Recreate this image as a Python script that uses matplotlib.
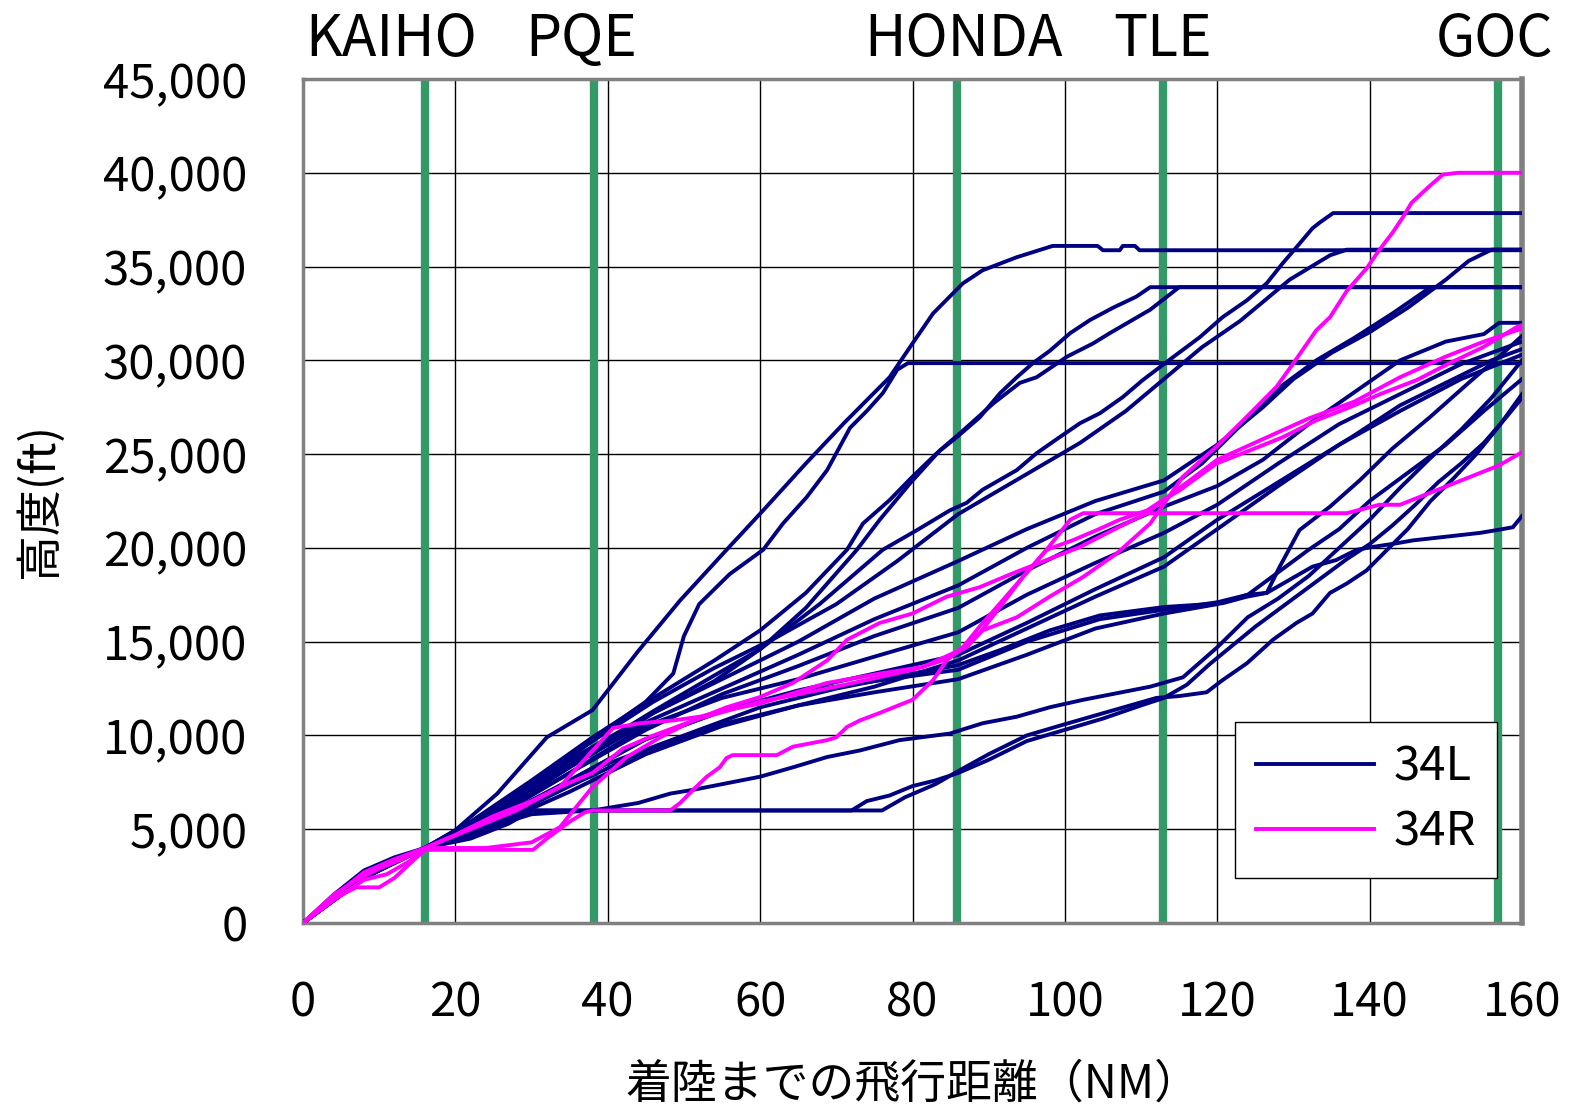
import matplotlib
matplotlib.use("Agg")
import matplotlib.pyplot as plt
from matplotlib.ticker import FuncFormatter
from matplotlib.transforms import blended_transform_factory

plt.rcParams['font.family'] = ['Noto Sans CJK JP', 'DejaVu Sans']

# 34L tracks (distance to landing NM, altitude ft)
l01_x = [0, 4, 8, 12, 16, 20, 25.5, 32, 38, 44, 49.5, 55.6, 60.4, 66, 71, 77, 80, 82.7, 86.6, 89.2, 93.7, 98.4, 104.3, 105, 107.2, 107.6, 109.2, 109.8, 160]
l01_y = [0, 1500, 2800, 3500, 4000, 4950, 6900, 9900, 11350, 14500, 17200, 19900, 22000, 24500, 26650, 29100, 30900, 32500, 34100, 34800, 35500, 36100, 36100, 35870, 35870, 36100, 36100, 35870, 35870]

l02_x = [0, 4, 8, 12, 16, 22, 30, 38, 45, 48.6, 50, 52, 56, 60.4, 63, 66.1, 68.8, 71.8, 74, 76.1, 78, 79.4, 160]
l02_y = [0, 1400, 2600, 3300, 4000, 5200, 7400, 9800, 11800, 13300, 15300, 17000, 18600, 19900, 21300, 22700, 24150, 26400, 27300, 28250, 29500, 29850, 29850]

l03_x = [0, 4, 8, 12, 16, 22, 30, 38, 46, 54, 60, 66, 71.4, 73.5, 77, 80, 83.2, 85.8, 88.8, 91.5, 93.7, 95.8, 98, 100.7, 103.3, 106.3, 109.4, 111.2, 160]
l03_y = [0, 1300, 2500, 3300, 4000, 5400, 7600, 9900, 12000, 14000, 15600, 17600, 19900, 21300, 22550, 23800, 25050, 25900, 26950, 28250, 29100, 29850, 30500, 31450, 32150, 32800, 33400, 33900, 33900]

l04_x = [0, 4, 8, 12, 16, 22, 30, 38, 46, 54, 60, 66, 72.7, 75.7, 79.7, 83.6, 86.2, 90.6, 94.1, 96.3, 100.3, 103.7, 105.9, 111.2, 115, 160]
l04_y = [0, 1200, 2400, 3200, 4000, 5200, 7200, 9300, 11300, 13200, 14600, 16800, 19900, 21500, 23450, 25200, 26100, 27700, 28800, 29100, 30200, 30900, 31450, 32700, 33900, 33900]

l05_x = [0, 4, 8, 12, 16, 22, 30, 38, 46, 54, 60, 67.8, 76.1, 80.6, 84.9, 87.1, 89.2, 93.7, 96.3, 99.3, 102, 104.6, 107.6, 110.2, 114.2, 117.7, 120.7, 123.9, 126.5, 128.6, 130.4, 132.5, 133.5, 135.2, 160]
l05_y = [0, 1300, 2600, 3400, 4000, 5100, 7000, 9100, 11200, 12900, 14600, 17000, 19900, 20950, 22000, 22400, 23100, 24150, 25050, 25900, 26650, 27180, 28040, 28940, 30170, 31230, 32300, 33200, 34110, 35180, 36030, 37040, 37360, 37850, 37850]

l06_x = [0, 4, 8, 12, 16, 22, 30, 38, 46, 54, 62, 70, 78, 86, 94, 102, 108, 113, 118, 123, 129.5, 134.8, 137, 160]
l06_y = [0, 1300, 2500, 3300, 4000, 5300, 7400, 9700, 11800, 13600, 15200, 17000, 19300, 21800, 23700, 25600, 27300, 29000, 30700, 32100, 34300, 35600, 35900, 35900]

l07_x = [0, 4, 8, 12, 16, 25, 35, 45, 55, 65, 75, 86, 95, 104, 113, 120, 126, 130, 135, 140, 145, 150, 153, 156, 160]
l07_y = [0, 1300, 2500, 3300, 4000, 6000, 8700, 11000, 13000, 15000, 17300, 19300, 21000, 22500, 23600, 25500, 27500, 29000, 30400, 31500, 32800, 34300, 35300, 35900, 35900]

l08_x = [0, 4, 8, 12, 16, 25, 35, 45, 55, 65, 75, 86, 95, 104, 113, 118, 123, 128, 133, 138, 143, 148, 160]
l08_y = [0, 1200, 2400, 3200, 4000, 5800, 8300, 10700, 12500, 14300, 16200, 18000, 20000, 21800, 23000, 24500, 26500, 28500, 30000, 31200, 32500, 33900, 33900]

l09_x = [0, 4, 8, 12, 16, 25, 35, 45, 55, 65, 75, 86, 95, 104, 113, 120, 126, 132, 138, 144, 150, 155, 157, 160]
l09_y = [0, 1300, 2600, 3300, 4000, 5600, 8000, 10300, 12200, 13700, 15300, 16800, 18800, 20600, 22200, 23300, 24700, 26600, 28300, 30000, 31000, 31400, 32000, 32000]

l10_x = [0, 4, 8, 12, 16, 25, 35, 45, 55, 65, 75, 86, 95, 104.6, 113, 120, 124, 126.5, 128.2, 130.8, 134.8, 138.7, 143, 148, 153, 157, 160]
l10_y = [0, 1200, 2500, 3300, 4000, 5500, 7600, 9800, 11300, 12300, 12900, 13500, 15000, 16200, 16700, 17100, 17500, 17600, 19000, 20950, 22200, 23600, 25300, 27000, 28800, 30200, 31300]

l11_x = [0, 4, 8, 12, 16, 20, 30, 40, 50, 60, 70, 80, 86, 91.5, 98, 104.6, 113.1, 120.7, 123.9, 126.5, 129.5, 132.5, 135.6, 138.3, 140.4, 143.6, 145.7, 150.1, 154.5, 156.7, 158.8, 160]
l11_y = [0, 1300, 2600, 3300, 4000, 4900, 6500, 8500, 10000, 11500, 12500, 13300, 13750, 14550, 15600, 16400, 16850, 17050, 17400, 17600, 18300, 19000, 19350, 19900, 20050, 20250, 20400, 20600, 20800, 20950, 21100, 21700]

l12_x = [0, 4, 8, 12, 16, 25, 35, 45, 55, 65, 75, 86, 95, 104, 113, 120, 124, 128, 132, 136, 140, 145, 150, 155, 160]
l12_y = [0, 1300, 2500, 3300, 4000, 5300, 7300, 9200, 10600, 11600, 12300, 13000, 14300, 15700, 16500, 17000, 17500, 18700, 19900, 21000, 22500, 24000, 25500, 27300, 29000]

l13_x = [0, 4, 8, 12, 16, 25, 35, 45, 55, 65, 75, 86, 95, 104, 113, 120, 128, 136, 144, 152, 160]
l13_y = [0, 1300, 2600, 3300, 4000, 5700, 8000, 10500, 12000, 13000, 14200, 15500, 17500, 19200, 20800, 22300, 24500, 26600, 28200, 29800, 31000]

l14_x = [0, 4, 8, 12, 16, 25, 35, 45, 55, 65, 75, 86, 95, 104, 113, 120, 126, 132, 138, 144, 150, 156, 160]
l14_y = [0, 1200, 2400, 3200, 4000, 5400, 7600, 9800, 11300, 12400, 13300, 14300, 16000, 17800, 19500, 21500, 23000, 24500, 26000, 27600, 28800, 30000, 30600]

l15_x = [0, 4, 8, 12, 16, 22, 27, 30, 76, 79, 83, 86, 90, 95, 100, 106, 112, 115, 118.6, 120.7, 123.9, 127.3, 130.4, 132.5, 134.8, 137, 139.6, 142.3, 145, 148, 151, 154, 157, 160]
l15_y = [0, 1300, 2500, 3200, 4000, 4600, 5400, 6000, 6000, 6700, 7400, 8100, 9000, 10000, 10600, 11300, 12000, 12100, 12300, 12950, 13850, 15100, 16000, 16500, 17600, 18100, 18800, 19900, 21000, 22500, 23700, 25000, 26500, 28200]

l16_x = [0, 4, 8, 12, 16, 22, 27, 30, 72, 74, 77, 80, 83, 86, 90, 95, 100, 105, 110, 113, 116, 119, 122, 125, 128, 131, 134, 137, 140, 143, 146, 149, 152, 155, 158, 160]
l16_y = [0, 1200, 2400, 3300, 4000, 4500, 5300, 6000, 6000, 6500, 6800, 7300, 7600, 8000, 8700, 9700, 10300, 10900, 11600, 12000, 12700, 13800, 14800, 15800, 16700, 17600, 18500, 19400, 20200, 21200, 22300, 23500, 24500, 25600, 27000, 28000]

l17_x = [0, 4, 8, 12, 16, 22, 30, 38, 44, 48.2, 51.2, 55.6, 60, 64.3, 68.8, 73.1, 78.3, 84.9, 89.2, 93.7, 98, 102.4, 106.8, 111.2, 115.5, 120, 124, 128, 132, 136, 140, 144, 148, 152, 156, 160]
l17_y = [0, 1300, 2600, 3300, 4000, 4800, 5800, 6000, 6400, 6900, 7100, 7450, 7800, 8300, 8850, 9200, 9750, 10100, 10650, 11000, 11500, 11900, 12250, 12600, 13100, 14700, 16300, 17300, 18500, 20000, 21500, 23200, 24800, 26300, 28000, 30000]

l18_x = [0, 4, 8, 12, 16, 25, 35, 45, 55, 65, 75, 86, 95, 104, 113, 120, 128, 136, 144, 152, 160]
l18_y = [0, 1300, 2500, 3300, 4000, 5200, 7000, 9000, 10500, 11600, 12600, 14000, 15700, 17400, 19000, 21000, 23300, 25500, 27300, 29000, 30300]

# 34R tracks
r01_x = [0, 4, 7, 10, 13, 16, 20, 25, 30, 34, 38, 42, 46, 52, 60, 70, 80, 84, 87.1, 89.2, 93.7, 98, 102.4, 106.8, 111.2, 115.5, 119.9, 123.9, 127.8, 130, 133, 134.8, 137, 139.6, 141.3, 143, 144.4, 145.5, 147.9, 149.6, 151.6, 160]
r01_y = [0, 1500, 2300, 2900, 3400, 4000, 4700, 5700, 6500, 7300, 8000, 9300, 10000, 10900, 11800, 12600, 13500, 14000, 14700, 15600, 16300, 17400, 18450, 19700, 21300, 23800, 25400, 27000, 28600, 29850, 31600, 32300, 33700, 34900, 35900, 36800, 37650, 38400, 39300, 39900, 40000, 40000]

r02_x = [0, 4, 8, 12, 16, 24, 30, 33.7, 38, 42.5, 46.9, 51.2, 55.6, 60, 64.3, 68.8, 71.4, 75.7, 80, 84.5, 88.8, 93.2, 97.6, 102, 106.3, 110.8, 112.9, 115.1, 119.9, 124.3, 128.6, 133, 137.4, 141.7, 146.2, 150.5, 154.9, 159.3, 160]
r02_y = [0, 1400, 2700, 3400, 4000, 4000, 4300, 5100, 7250, 8850, 9900, 10800, 11500, 12050, 12800, 14000, 15100, 16000, 16500, 17400, 17900, 18650, 19350, 20050, 20950, 21850, 22550, 23080, 24500, 25200, 25900, 26800, 27500, 28250, 28950, 29850, 30700, 31770, 31870]

r03_x = [0, 4, 7, 10, 12, 16, 20, 30.2, 32, 35, 37, 38, 48.2, 49.5, 51.2, 53, 54.7, 55.6, 56.4, 62.2, 64.3, 68.8, 70, 71.4, 73.1, 75.7, 80, 82.7, 84.5, 86.6, 88.8, 91.5, 94.5, 97.6, 100.7, 102.4, 137, 141.3, 144, 150.5, 157, 160]
r03_y = [0, 1300, 1900, 1900, 2400, 3900, 3900, 3900, 4500, 5400, 5900, 6000, 6000, 6400, 7100, 7800, 8300, 8800, 8950, 8950, 9400, 9750, 9900, 10450, 10800, 11200, 11900, 12950, 14000, 14700, 15800, 17050, 18450, 19900, 21500, 21850, 21850, 22300, 22300, 23350, 24400, 25100]

r04_x = [0, 4, 8, 11, 14, 16, 22, 28, 33.7, 40.7, 44.2, 48.6, 52.1, 55.6, 60, 64.3, 68.8, 75.7, 81.4, 86.2, 88.8, 91.5, 94.5, 97.6, 101, 104.2, 107.2, 110.8, 113.4, 116.4, 120, 126, 132, 138, 144, 150, 155, 160]
r04_y = [0, 1200, 2300, 2600, 3300, 4000, 5000, 6000, 7250, 10400, 10650, 10800, 11000, 11350, 11700, 12250, 12800, 13300, 13650, 14550, 15450, 16850, 18450, 19900, 20400, 20950, 21500, 22000, 22700, 23600, 24700, 25800, 26900, 27800, 29100, 30200, 31000, 31700]

tracks_34l = [(l01_x, l01_y), (l02_x, l02_y), (l03_x, l03_y), (l04_x, l04_y), (l05_x, l05_y),
              (l06_x, l06_y), (l07_x, l07_y), (l08_x, l08_y), (l09_x, l09_y), (l10_x, l10_y),
              (l11_x, l11_y), (l12_x, l12_y), (l13_x, l13_y), (l14_x, l14_y), (l15_x, l15_y),
              (l16_x, l16_y), (l17_x, l17_y), (l18_x, l18_y)]
tracks_34r = [(r01_x, r01_y), (r02_x, r02_y), (r03_x, r03_y), (r04_x, r04_y)]

fix_names = ['KAIHO', 'PQE', 'HONDA', 'TLE', 'GOC']
fix_dist = [16, 38.2, 85.8, 112.9, 156.8]
name_pos = [11.6, 36.5, 86.7, 112.8, 156.4]

fig = plt.figure(figsize=(15.74, 11.09), dpi=100)
ax = fig.add_axes([303/1574, 1-923/1109, (1522-303)/1574, (923-79)/1109])

for x in fix_dist:
    ax.axvline(x, color='#339966', lw=6, zorder=2)

for i, (x, y) in enumerate(tracks_34l):
    ax.plot(x, y, color='#000080', lw=2.8, zorder=3, label='34L' if i == 0 else None)
for i, (x, y) in enumerate(tracks_34r):
    ax.plot(x, y, color='#FF00FF', lw=2.8, zorder=4, label='34R' if i == 0 else None)

ax.set_xlim(0, 160)
ax.set_ylim(0, 45000)
ax.set_xticks(range(0, 161, 20))
ax.set_yticks(range(0, 45001, 5000))
ax.yaxis.set_major_formatter(FuncFormatter(lambda v, p: f'{int(v):,}'))
ax.tick_params(length=0, labelsize=34, pad=40)
ax.grid(True, color='black', lw=1, zorder=1)
ax.set_axisbelow(True)
for s in ax.spines.values():
    s.set_color('#808080')
    s.set_linewidth(2.5)
ax.spines['right'].set_linewidth(4)

ax.set_xlabel('着陸までの飛行距離（NM）', fontsize=33, labelpad=24)
ax.set_ylabel('高度(ft)', fontsize=33, labelpad=28)

trans = blended_transform_factory(ax.transData, ax.transAxes)
for name, xp in zip(fix_names, name_pos):
    ax.text(xp, 1.012, name, transform=trans, ha='center', va='bottom', fontsize=41)

leg = ax.legend(loc='lower right', bbox_to_anchor=(0.9795, 0.0533), borderaxespad=0,
                fontsize=34, handlelength=2.5, fancybox=False, framealpha=1,
                edgecolor='black', borderpad=0.45, labelspacing=0.35, handletextpad=0.4)
leg.get_frame().set_linewidth(1)
for h in leg.get_lines():
    h.set_linewidth(2.8)

fig.savefig('out.png', dpi=100)
